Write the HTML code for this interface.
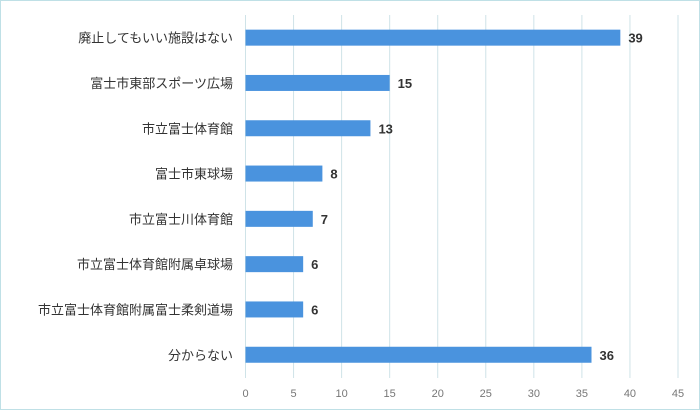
<!DOCTYPE html>
<html><head><meta charset="utf-8"><style>
body{margin:0;background:#fff;}
svg{display:block;font-family:"Liberation Sans","Noto Sans CJK JP",sans-serif;}
</style></head><body>
<svg id="c" width="700" height="410">
<rect x="0.5" y="0.5" width="699" height="409" fill="#fff" stroke="#bfe0e6"/>
<g id="grid"></g><g id="bars"></g><g id="labels"></g>
</svg>
<script>
const categories=["廃止してもいい施設はない","富士市東部スポーツ広場","市立富士体育館","富士市東球場","市立富士川体育館","市立富士体育館附属卓球場","市立富士体育館附属富士柔剣道場","分からない"];
const values=[39,15,13,8,7,6,6,36];
const ticks=[0,5,10,15,20,25,30,35,40,45];
const svgEl=document.getElementById('c'),NS='http://www.w3.org/2000/svg';
const x0=245.5,x1=678,xmax=45,topY=15,band=45.3;
const xs=v=>x0+(x1-x0)*v/xmax;
const yc=i=>topY+band*(i+0.5);
function mk(t,a,p){const e=document.createElementNS(NS,t);for(const k in a)e.setAttribute(k,a[k]);p.appendChild(e);return e;}
const g=document.getElementById('grid'),b=document.getElementById('bars'),l=document.getElementById('labels');
ticks.forEach(t=>{
const ln=mk('line',{x1:xs(t),x2:xs(t),y1:15,y2:378,stroke:'#cfe3e8','stroke-width':1},g);


const tx=mk('text',{x:xs(t),y:397,'text-anchor':'middle','font-size':11,fill:'#777'},g);
tx.textContent=t;


});
values.forEach((v,i)=>{
const r=mk('rect',{x:x0,y:yc(i)-8,width:xs(v)-x0,height:16,fill:'#4a93de'},b);


const vt=mk('text',{x:xs(v)+8,y:yc(i)+5,'font-size':13,'font-weight':'bold',fill:'#333'},b);
vt.textContent=v;


const ct=mk('text',{x:233,y:yc(i)+5,'text-anchor':'end','font-size':13,fill:'#333'},l);
ct.textContent=categories[i];


});
</script>
</body></html>
